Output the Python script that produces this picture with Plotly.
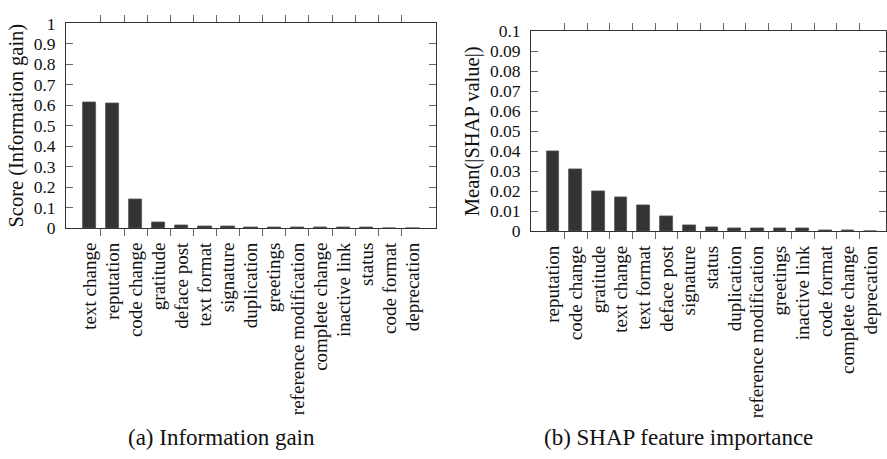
import plotly.graph_objects as go

# ---- data ----
ig_features = ["text change", "reputation", "code change", "gratitude", "deface post",
               "text format", "signature", "duplication", "greetings",
               "reference modification", "complete change", "inactive link",
               "status", "code format", "deprecation"]
ig_scores = [0.612, 0.609, 0.139, 0.026, 0.012, 0.009, 0.007, 0.005, 0.002,
             0.0015, 0.001, 0.001, 0.001, 0.0007, 0.0005]

shap_features = ["reputation", "code change", "gratitude", "text change", "text format",
                 "deface post", "signature", "status", "duplication",
                 "reference modification", "greetings", "inactive link",
                 "code format", "complete change", "deprecation"]
shap_values = [0.0399, 0.0312, 0.0200, 0.0169, 0.0132, 0.0077, 0.0028, 0.0021,
               0.0016, 0.0016, 0.0015, 0.0015, 0.0003, 0.0002, 0.0001]

ig_yticks = [i / 10 for i in range(11)]
shap_yticks = [i / 100 for i in range(11)]

caption_a = "(a) Information gain"
caption_b = "(b) SHAP feature importance"

FONT = "Liberation Serif"
BAR = "#333333"
FRAME = "#333333"
TICK = "#666666"
TXT = "#111111"
W, H = 887, 459

IG_RANGE = [-1.01, 15.0]
SHAP_RANGE = [-0.97, 14.67]
IG_DOM = [66 / W, 436 / W]
SHAP_DOM = [531 / W, 886 / W]

fig = go.Figure()
fig.add_trace(go.Bar(x=list(range(len(ig_features))), y=ig_scores, width=0.58,
                     marker=dict(color=BAR, line=dict(color="#555555", width=0.8)),
                     xaxis="x", yaxis="y", showlegend=False))
fig.add_trace(go.Bar(x=list(range(len(shap_features))), y=shap_values, width=0.56,
                     marker=dict(color=BAR, line=dict(color="#555555", width=0.8)),
                     xaxis="x2", yaxis="y2", showlegend=False))
# transparent copies so the top tick-only overlay axes get drawn
fig.add_trace(go.Bar(x=list(range(len(ig_features))), y=ig_scores, opacity=0,
                     xaxis="x3", yaxis="y", showlegend=False, hoverinfo="skip"))
fig.add_trace(go.Bar(x=list(range(len(shap_features))), y=shap_values, opacity=0,
                     xaxis="x4", yaxis="y2", showlegend=False, hoverinfo="skip"))


def xax(domain, rng, labels, anchor):
    n = len(labels)
    return dict(domain=domain, range=rng, anchor=anchor,
                tickmode="array", tickvals=list(range(n)), ticktext=labels,
                tickangle=-90, ticks="outside", ticklen=0, tickcolor=TICK,
                ticklabelstandoff=6,
                tickfont=dict(family=FONT, size=19, color=TXT),
                showline=True, linecolor=FRAME, linewidth=1, mirror=True,
                showgrid=False, zeroline=False,
                # category-boundary ticks, as in the original
                minor=dict(tickmode="array",
                           tickvals=[i + 0.5 for i in range(n - 1)],
                           ticks="outside", ticklen=7, tickcolor=TICK, tickwidth=1,
                           showgrid=False))


def xtop(domain, rng, n, overlay, anchor):
    return dict(domain=domain, range=rng, anchor=anchor, overlaying=overlay,
                side="top", tickmode="array",
                tickvals=[i + 0.5 for i in range(n - 1)],
                showticklabels=False, ticks="outside", ticklen=7,
                tickcolor=TICK, tickwidth=1,
                showline=False, showgrid=False, zeroline=False)


def yax(domain, rng, tickvals, title, anchor):
    return dict(domain=domain, range=rng, anchor=anchor,
                tickmode="array", tickvals=tickvals,
                ticks="inside", ticklen=7, tickcolor=TICK, tickwidth=1,
                ticklabelstandoff=6,
                tickfont=dict(family=FONT, size=17.5, color=TXT),
                showline=True, linecolor=FRAME, linewidth=1, mirror="ticks",
                showgrid=False, zeroline=False,
                title=dict(text=title, font=dict(family=FONT, size=20.5, color=TXT),
                           standoff=4))


fig.update_layout(
    width=W, height=H,
    margin=dict(l=0, r=0, t=0, b=0),
    paper_bgcolor="white", plot_bgcolor="white",
    bargap=0, barmode="overlay",
    xaxis=xax(IG_DOM, IG_RANGE, ig_features, "y"),
    xaxis3=xtop(IG_DOM, IG_RANGE, len(ig_features), "x", "y"),
    yaxis=yax([(H - 228) / H, (H - 14) / H], [0, 1], ig_yticks,
              "Score (Information gain)", "x"),
    xaxis2=xax(SHAP_DOM, SHAP_RANGE, shap_features, "y2"),
    xaxis4=xtop(SHAP_DOM, SHAP_RANGE, len(shap_features), "x2", "y2"),
    yaxis2=yax([(H - 231.3) / H, (H - 22.3) / H], [0, 0.1], shap_yticks,
               "Mean(|SHAP value|)", "x2"),
    annotations=[
        dict(text=caption_a, x=221.5 / W, y=1 - 447 / H, xref="paper", yref="paper",
             showarrow=False, xanchor="center", yanchor="middle",
             font=dict(family=FONT, size=23, color=TXT)),
        dict(text=caption_b, x=678 / W, y=1 - 447 / H, xref="paper", yref="paper",
             showarrow=False, xanchor="center", yanchor="middle",
             font=dict(family=FONT, size=23, color=TXT)),
    ],
)

fig.write_html("out.html", config={"displayModeBar": False},
               post_script="document.body.style.margin='0';document.body.style.overflow='hidden';")
